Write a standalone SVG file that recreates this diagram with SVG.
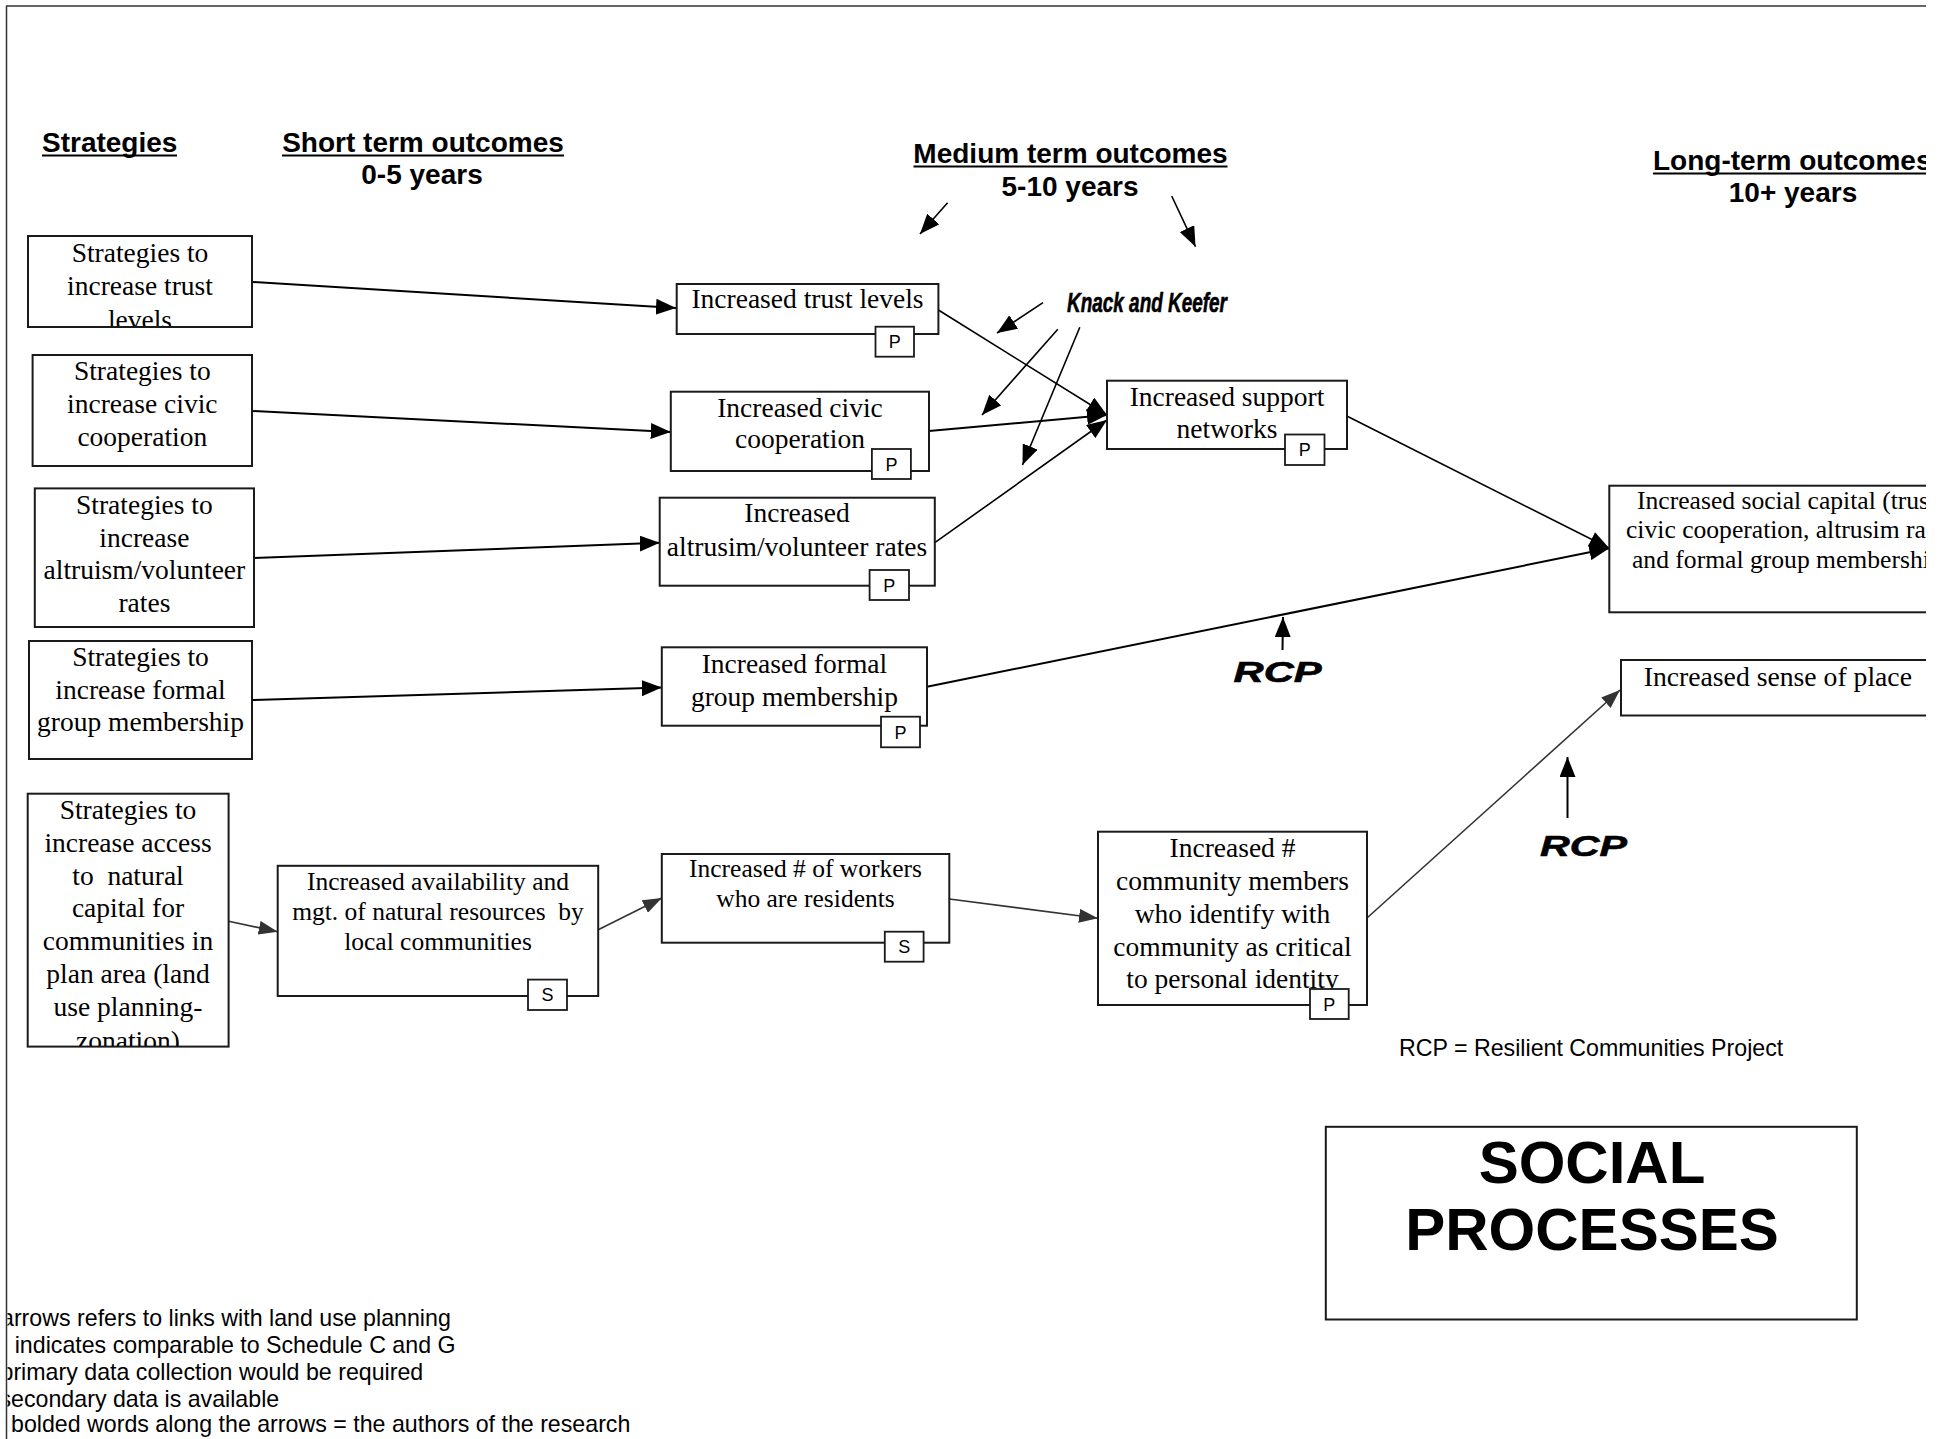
<svg xmlns="http://www.w3.org/2000/svg" width="1952" height="1439" viewBox="0 0 1952 1439">
<style>
.bx{fill:#fff;stroke:#1a1a1a;stroke-width:2}
.bd{fill:#fff;stroke:#1a1a1a;stroke-width:1.8}
.s{font-family:"Liberation Serif","Times New Roman",serif;font-size:27.5px;text-anchor:middle;fill:#000}
.ss{font-family:"Liberation Serif","Times New Roman",serif;font-size:25.5px;text-anchor:middle;fill:#000}
.sl{font-family:"Liberation Serif","Times New Roman",serif;font-size:25.6px;fill:#000}
.h{font-family:"Liberation Sans",Arial,sans-serif;font-weight:bold;font-size:28px;fill:#000}
.t{font-family:"Liberation Sans",Arial,sans-serif;font-weight:bold;font-size:60px;text-anchor:middle;fill:#000}
.hm{text-anchor:middle}
.bt{font-family:"Liberation Sans",Arial,sans-serif;font-size:18px;text-anchor:middle;fill:#000}
.n{font-family:"Liberation Sans",Arial,sans-serif;font-size:23.2px;fill:#000}
.it{font-family:"Liberation Sans",Arial,sans-serif;font-weight:bold;font-style:italic;fill:#000;stroke:#000;stroke-width:0.6}
.c{fill:none;stroke:#000;stroke-width:2}
.ct{fill:none;stroke:#000;stroke-width:1.6}
.cg{fill:none;stroke:#333;stroke-width:1.6}
.ul{stroke:#000;stroke-width:2}
</style>
<defs>
<marker id="ab" viewBox="0 0 20 16" refX="20" refY="8" markerWidth="20" markerHeight="16" markerUnits="userSpaceOnUse" orient="auto"><path d="M0,0L20,8L0,16z" fill="#000"/></marker>
<marker id="ag" viewBox="0 0 19 14" refX="19" refY="7" markerWidth="19" markerHeight="14" markerUnits="userSpaceOnUse" orient="auto"><path d="M0,0L19,7L0,14z" fill="#333"/></marker>
<clipPath id="page"><rect x="0" y="0" width="1926" height="1439"/></clipPath>
<clipPath id="left"><rect x="7.5" y="0" width="1000" height="1439"/></clipPath>
<clipPath id="c1"><rect x="28" y="237" width="223" height="89"/></clipPath>
<clipPath id="c5"><rect x="28" y="794" width="200" height="252"/></clipPath>
</defs>
<rect x="0" y="0" width="1952" height="1439" fill="#fff"/>
<g clip-path="url(#page)">
<g id="frame">
<line x1="6" y1="6" x2="1926" y2="6" stroke="#333" stroke-width="1.5"/>
<line x1="6.5" y1="6" x2="6.5" y2="1439" stroke="#333" stroke-width="1.5"/>
</g>
<g id="headers">
<text class="h" x="42" y="152">Strategies</text>
<line class="ul" x1="42" y1="155.5" x2="177" y2="155.5"/>
<text class="h hm" x="423" y="152">Short term outcomes</text>
<line class="ul" x1="282" y1="155.5" x2="564" y2="155.5"/>
<text class="h hm" x="422" y="184">0-5 years</text>
<text class="h hm" x="1070.5" y="163">Medium term outcomes</text>
<line class="ul" x1="913.5" y1="166.5" x2="1227.5" y2="166.5"/>
<text class="h hm" x="1070" y="196">5-10 years</text>
<text class="h" x="1653" y="170">Long-term outcomes</text>
<line class="ul" x1="1653" y1="173.5" x2="1933" y2="173.5"/>
<text class="h hm" x="1793" y="202">10+ years</text>
</g>
<g id="connectors">
<line class="c" x1="252" y1="282" x2="676" y2="308" marker-end="url(#ab)"/>
<line class="c" x1="252" y1="411" x2="670.8" y2="432" marker-end="url(#ab)"/>
<line class="c" x1="254" y1="558" x2="659.8" y2="542.8" marker-end="url(#ab)"/>
<line class="c" x1="252" y1="700" x2="661.8" y2="687.6" marker-end="url(#ab)"/>
<line class="ct" x1="938.4" y1="310" x2="1107" y2="415" marker-end="url(#ab)"/>
<line class="c" x1="929" y1="431" x2="1107" y2="415" marker-end="url(#ab)"/>
<line class="ct" x1="934.8" y1="542.7" x2="1107" y2="420" marker-end="url(#ab)"/>
<line class="ct" x1="1346.8" y1="416" x2="1609.3" y2="548.3" marker-end="url(#ab)"/>
<line class="c" x1="927" y1="686.7" x2="1609.3" y2="548.3" marker-end="url(#ab)"/>
<line class="c" x1="1282.5" y1="650" x2="1283" y2="617" marker-end="url(#ab)"/>
<line class="ct" x1="947.6" y1="202.7" x2="920" y2="234" marker-end="url(#ab)"/>
<line class="ct" x1="1171.7" y1="196" x2="1195.5" y2="246.7" marker-end="url(#ab)"/>
<line class="ct" x1="1043" y1="302.7" x2="997" y2="333" marker-end="url(#ab)"/>
<line class="ct" x1="1057.8" y1="329.3" x2="982" y2="415" marker-end="url(#ab)"/>
<line class="ct" x1="1079.8" y1="327.3" x2="1022.5" y2="465" marker-end="url(#ab)"/>
<line class="cg" x1="228.6" y1="921.3" x2="277.7" y2="931.7" marker-end="url(#ag)"/>
<line class="cg" x1="598.2" y1="929.8" x2="661.8" y2="898" marker-end="url(#ag)"/>
<line class="cg" x1="949.3" y1="899" x2="1098" y2="918.3" marker-end="url(#ag)"/>
<line class="cg" x1="1367" y1="918" x2="1620" y2="690" marker-end="url(#ag)"/>
<line class="c" x1="1567.5" y1="818" x2="1567.5" y2="757" marker-end="url(#ab)"/>
</g>
<g id="strat-trust">
<rect class="bx" x="28" y="236" width="224" height="91"/>
<g clip-path="url(#c1)">
<text class="s" x="140" y="262">Strategies to</text>
<text class="s" x="140" y="295">increase trust</text>
<text class="s" x="140" y="329">levels</text>
</g>
</g>
<g id="strat-civic">
<rect class="bx" x="32.6" y="355" width="219.4" height="111"/>
<text class="s" x="142.3" y="380">Strategies to</text>
<text class="s" x="142.3" y="413">increase civic</text>
<text class="s" x="142.3" y="446">cooperation</text>
</g>
<g id="strat-altruism">
<rect class="bx" x="34.8" y="488.4" width="219.2" height="138.6"/>
<text class="s" x="144.4" y="514">Strategies to</text>
<text class="s" x="144.4" y="546.5">increase</text>
<text class="s" x="144.4" y="579">altruism/volunteer</text>
<text class="s" x="144.4" y="612">rates</text>
</g>
<g id="strat-formal">
<rect class="bx" x="29" y="641" width="223" height="118"/>
<text class="s" x="140.5" y="666">Strategies to</text>
<text class="s" x="140.5" y="698.7">increase formal</text>
<text class="s" x="140.5" y="731">group membership</text>
</g>
<g id="strat-natural">
<rect class="bx" x="27.7" y="793.7" width="200.9" height="252.9"/>
<g clip-path="url(#c5)">
<text class="s" x="128" y="818.7">Strategies to</text>
<text class="s" x="128" y="851.6">increase access</text>
<text class="s" x="128" y="884.5" xml:space="preserve">to  natural</text>
<text class="s" x="128" y="917.4">capital for</text>
<text class="s" x="128" y="950.3">communities in</text>
<text class="s" x="128" y="983.2">plan area (land</text>
<text class="s" x="128" y="1016.1">use planning-</text>
<text class="s" x="128" y="1050">zonation)</text>
</g>
</g>
<g id="trust">
<rect class="bx" x="676.7" y="284" width="261.7" height="50"/>
<text class="s" x="807.5" y="308">Increased trust levels</text>
<rect class="bd" x="875.5" y="326.7" width="38.5" height="30"/>
<text class="bt" x="894.7" y="348">P</text>
</g>
<g id="civic">
<rect class="bx" x="670.8" y="391.7" width="258.2" height="79.3"/>
<text class="s" x="800" y="416.7">Increased civic</text>
<text class="s" x="800" y="448">cooperation</text>
<rect class="bd" x="871.9" y="449" width="39" height="30"/>
<text class="bt" x="891.4" y="470.5">P</text>
</g>
<g id="altruism">
<rect class="bx" x="659.7" y="497.7" width="275.1" height="88"/>
<text class="s" x="797" y="521.7">Increased</text>
<text class="s" x="797" y="556">altrusim/volunteer rates</text>
<rect class="bd" x="869.6" y="570" width="39.4" height="30"/>
<text class="bt" x="889.3" y="591.5">P</text>
</g>
<g id="formal">
<rect class="bx" x="661.8" y="647.3" width="265.2" height="78.4"/>
<text class="s" x="794.4" y="672.7">Increased formal</text>
<text class="s" x="794.4" y="706">group membership</text>
<rect class="bd" x="881" y="716.7" width="39" height="30.6"/>
<text class="bt" x="900.5" y="738.5">P</text>
</g>
<g id="support">
<rect class="bx" x="1107" y="380.7" width="240" height="68.3"/>
<text class="s" x="1227" y="406">Increased support</text>
<text class="s" x="1227" y="438">networks</text>
<rect class="bd" x="1285" y="434.5" width="39.5" height="30.5"/>
<text class="bt" x="1304.7" y="456">P</text>
</g>
<g id="availability">
<rect class="bx" x="277.7" y="865.8" width="320.5" height="130.2"/>
<text class="ss" x="438" y="889.5">Increased availability and</text>
<text class="ss" x="438" y="919.5" xml:space="preserve">mgt. of natural resources  by</text>
<text class="ss" x="438" y="949.5">local communities</text>
<rect class="bd" x="528" y="979.6" width="39" height="30.4"/>
<text class="bt" x="547.5" y="1001">S</text>
</g>
<g id="workers">
<rect class="bx" x="661.8" y="854" width="287.5" height="88.7"/>
<text class="ss" x="805.5" y="876.7">Increased # of workers</text>
<text class="ss" x="805.5" y="907">who are residents</text>
<rect class="bd" x="884.8" y="931.7" width="38.8" height="30"/>
<text class="bt" x="904.2" y="953">S</text>
</g>
<g id="community">
<rect class="bx" x="1098" y="831.7" width="269" height="173.3"/>
<text class="s" x="1232.5" y="856.7">Increased #</text>
<text class="s" x="1232.5" y="889.8">community members</text>
<text class="s" x="1232.5" y="922.7">who identify with</text>
<text class="s" x="1232.5" y="955.5">community as critical</text>
<text class="s" x="1232.5" y="988.3">to personal identity</text>
<rect class="bd" x="1310" y="989" width="38.7" height="30"/>
<text class="bt" x="1329.3" y="1010.5">P</text>
</g>
<g id="social-capital">
<rect class="bx" x="1609.3" y="485.7" width="400" height="126.6"/>
<text class="sl" x="1637" y="509">Increased social capital (trus</text>
<text class="sl" x="1626" y="538">civic cooperation, altrusim ra</text>
<text class="sl" x="1632" y="568">and formal group membershi</text>
</g>
<g id="sense-of-place">
<rect class="bx" x="1621" y="660" width="400" height="55.5"/>
<text class="sl" x="1643.7" y="686" style="font-size:27.7px">Increased sense of place</text>
</g>
<g id="knack">
<text class="it" x="1067" y="312" style="font-size:28px" textLength="160" lengthAdjust="spacingAndGlyphs">Knack and Keefer</text>
</g>
<g id="rcp-upper">
<text class="it" x="1233.6" y="681.7" style="font-size:30px" textLength="88" lengthAdjust="spacingAndGlyphs">RCP</text>
</g>
<g id="rcp-lower">
<text class="it" x="1540" y="856" style="font-size:30px" textLength="87" lengthAdjust="spacingAndGlyphs">RCP</text>
</g>
<g id="rcp-note">
<text class="n" x="1399" y="1056">RCP = Resilient Communities Project</text>
</g>
<g id="title">
<rect class="bx" x="1325.8" y="1126.8" width="531" height="192.7"/>
<text class="t" x="1592" y="1183">SOCIAL</text>
<text class="t" x="1592" y="1250">PROCESSES</text>
</g>
<g id="legend" clip-path="url(#left)">
<text class="n" x="1" y="1326">arrows refers to links with land use planning</text>
<text class="n" x="14.7" y="1352.7">indicates comparable to Schedule C and G</text>
<text class="n" x="0.5" y="1380">primary data collection would be required</text>
<text class="n" x="-0.5" y="1406.7">secondary data is available</text>
<text class="n" x="11" y="1432">bolded words along the arrows = the authors of the research</text>
</g>
</g>
</svg>
